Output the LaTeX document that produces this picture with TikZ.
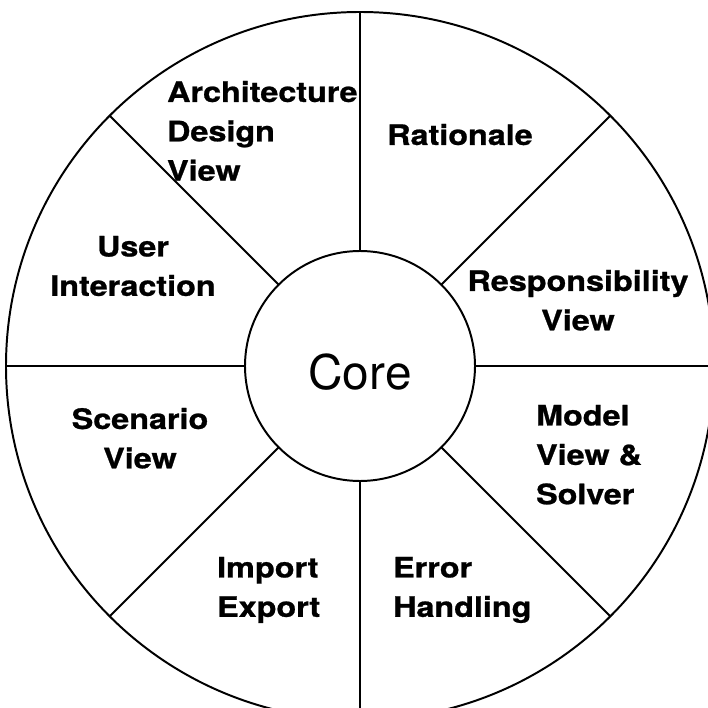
\documentclass[tikz,border=0pt]{standalone}
\usepackage{fontspec}
\setmainfont{TeX Gyre Heros}[BoldFeatures={FakeBold=0.8}]
\tikzset{
  segtext/.style={font=\fontsize{20}{28}\selectfont\bfseries, xscale=1.15, inner sep=0pt},
  ring/.style={draw, circle, inner sep=0pt, outer sep=0pt}
}
\begin{document}
\begin{tikzpicture}[line width=1.4pt]
\useasboundingbox (-9.0,-8.55) rectangle (8.7,9.15);
\node[ring, minimum size=17.7cm] (rim) at (0,0) {};
\node[ring, minimum size=5.75cm, font=\fontsize{34}{40}\selectfont, text height=34pt] (core) at (0,0) {Core};

\foreach \a in {0,45,...,315}
  \draw (core.\a) -- (rim.\a);

\node[segtext, anchor=north west, align=left] (arch) at (-4.85,7.15) {Architecture\\Design\\View};
\node[segtext, anchor=north] (rat) at (2.5,6.075) {Rationale};
\node[segtext, anchor=north, align=center] (user) at (-5.675,3.275) {User\\Interaction};
\node[segtext, anchor=north, align=center] (resp) at (5.45,2.425) {Responsibility\\View};
\node[segtext, anchor=north, align=center] (scen) at (-5.5,-1.025) {Scenario\\View};
\node[segtext, anchor=north west, align=left] (model) at (4.375,-0.95) {Model\\View \&\\Solver};
\node[segtext, anchor=north west, align=left] (imp) at (-3.6,-4.75) {Import\\Export};
\node[segtext, anchor=north west, align=left] (err) at (0.8,-4.75) {Error\\Handling};
\end{tikzpicture}
\end{document}
